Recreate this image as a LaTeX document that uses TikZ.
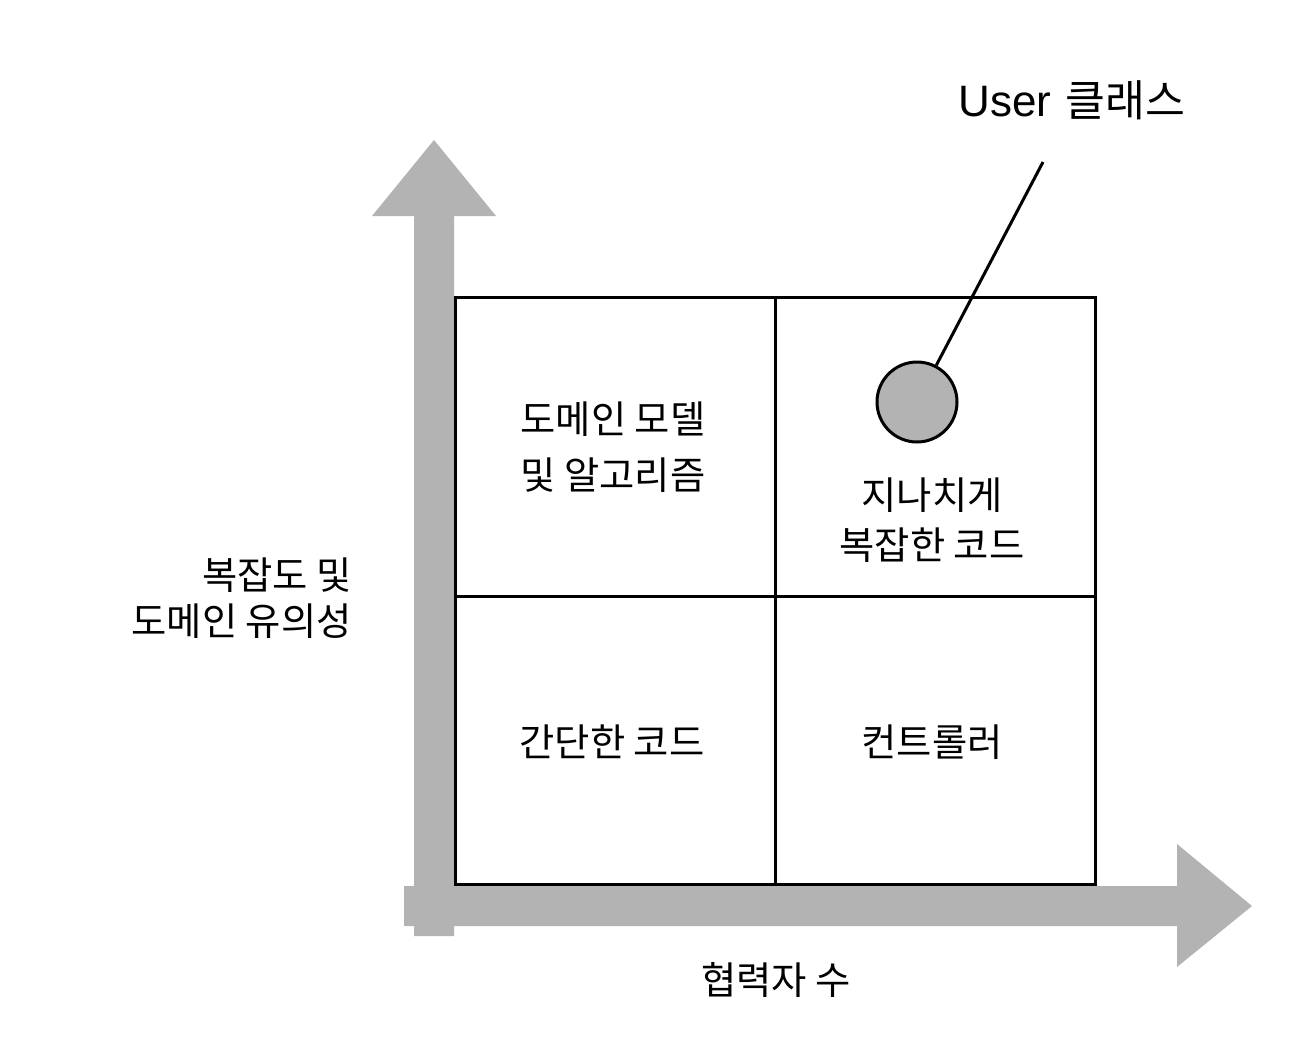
\documentclass[tikz,border=0pt]{standalone}
\usepackage{fontspec}
\setmainfont{Noto Sans CJK KR}
\newfontfamily\latfont{Liberation Sans}
\definecolor{axisgray}{RGB}{179,179,179}
\begin{document}
\begin{tikzpicture}[x=0.75pt,y=-0.75pt,
  celltext/.style={align=center,inner sep=0pt,font=\fontsize{28.75}{40}\selectfont},
  gridline/.style={line width=2.25pt,black},
  axisarrow/.style={fill=axisgray,draw=none}]
\useasboundingbox (0,0) rectangle (1296,1060);
% axes
\fill[axisarrow] (414,936) -- (414,216) -- (372,216) -- (434,140) -- (496,216) -- (454,216) -- (454,936) -- cycle;
\fill[axisarrow] (404,886) -- (1177,886) -- (1177,844) -- (1252,906) -- (1177,967) -- (1177,926) -- (404,926) -- cycle;
% grid
\draw[gridline,fill=white] (455,297) rectangle (1095,884);
\draw[gridline] (775,297) -- (775,884);
\draw[gridline] (455,596) -- (1095,596);
% cell texts
\node[celltext,font=\fontsize{28.75}{42}\selectfont] (dm) at (613,447) {도메인 모델\\및 알고리즘};
\node[celltext,font=\fontsize{28.75}{37}\selectfont] (oc) at (932,520) {지나치게\\복잡한 코드};
\node[celltext] (sc) at (612,742) {간단한 코드};
\node[celltext] (ct) at (932,742) {컨트롤러};
% axis labels
\node[align=right,anchor=east,inner sep=0pt,font=\fontsize{28.75}{35}\selectfont] (yl) at (352,598) {복잡도 및\\도메인 유의성};
\node[inner sep=0pt,font=\fontsize{28.75}{35}\selectfont] (xl) at (776,980) {협력자 수};
% user class marker
\node[circle,draw,line width=2.25pt,fill=axisgray,minimum size=60pt,inner sep=0pt] (uc) at (917,402) {};
\coordinate (lt) at (1043,162);
\draw[line width=2.25pt] (uc) -- (lt);
\node[inner sep=0pt] (ul) at (1072,100) {{\latfont\fontsize{33}{36}\selectfont User}\hspace*{11pt}{\fontsize{32.5}{36}\selectfont 클래스}};
\end{tikzpicture}
\end{document}
